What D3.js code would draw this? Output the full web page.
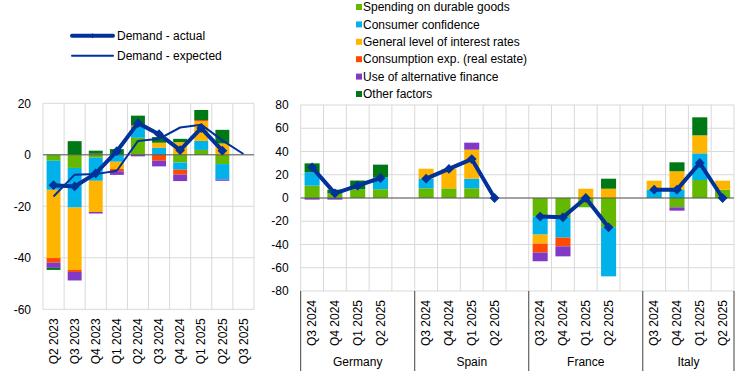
<!DOCTYPE html>
<html>
<head>
<meta charset="utf-8">
<script src="https://cdn.jsdelivr.net/npm/d3@7"></script>
<style>
  body { margin: 0; background: #fff; }
  text { font-family: "Liberation Sans", Arial, sans-serif; font-size: 12px; fill: #000; }
</style>
</head>
<body>
<svg id="chart" width="744" height="385"></svg>
<script>
// factors (same order for both panels)
const factorNames  = ['Spending on durable goods', 'Consumer confidence', 'General level of interest rates',
                      'Consumption exp. (real estate)', 'Use of alternative finance', 'Other factors'];
const factorColors = ['#65b800', '#00b1ea', '#ffb400', '#ff4b00', '#8139c6', '#007816'];

// left panel - euro area, by quarter
const quarters     = ['Q2 2023', 'Q3 2023', 'Q4 2023', 'Q1 2024', 'Q2 2024', 'Q3 2024', 'Q4 2024', 'Q1 2025', 'Q2 2025', 'Q3 2025'];
const eaDurable    = [-2.3, -5.1, -1.1,  0,   6.6,  0,   -3.0, 1.9, -3.6, 0];
const eaConfidence = [-11.3, -15.4, -9.0, -2.7, 4.3, 2.8, -2.8, 3.5, -6.0, 0];
const eaRates      = [-26.5, -24.2, -12.1, -2.8, 0,  1.9,  4.9, 7.6,  4.4, 0];
const eaRealEstate = [-1.8, -0.8,  0.4, -0.9, 0.6, -2.3, -1.9, 0.5,  0,   0];
const eaAltFinance = [-2.0, -3.3, -0.6, -1.4, -0.6, -2.2, -2.5, 0,  -0.5, 0];
const eaOther      = [-0.8,  5.3,  1.2,  2.2, 3.7,  2.2,  1.3, 3.9,  5.3, 0];
const eaActual     = [-11.8, -12.3, -7.2, 1.4, 12.3, 8.0, 1.8, 10.4, 1.6];
const eaExpected   = [-16.2, -7.7, -7.5, -6.2, 5.4, 6.2, 10.6, 11.7, 5.6, 0.3];

// right panel - countries, last four quarters
const countries     = ['Germany', 'Spain', 'France', 'Italy'];
const ctyQuarters   = ['Q3 2024', 'Q4 2024', 'Q1 2025', 'Q2 2025'];
// values run Germany x4, Spain x4, France x4, Italy x4
const ctyDurable    = [10.6, 4.0, 7.5, 7.5,   8.3, 8.3, 8.3, 0,   -16.0, -16.6, -8.0, -25.2,   0, -8.0, 15.5, 7.2];
const ctyConfidence = [11.5, 0, 0, 10.3,      8.3, 0, 8.3, 0,     -15.5, -17.5, 0, -42.2,      7.2, 7.2, 22.9, 0];
const ctyRates      = [0, 0, 0, 0,            8.6, 16.9, 25.0, 0, -7.7, 0, 8.0, 8.0,           7.7, 15.8, 15.5, 7.7];
const ctyRealEstate = [0, 0, 0, 0,            0, 0, 0, 0,         -7.7, -7.5, 0, 0,            0, 0, 0, 0];
const ctyAltFinance = [-1.4, -1.4, 0, 0,      0, 0, 6.0, 0,       -7.5, -8.6, 0, 0,            0, -2.9, 0, 0];
const ctyOther      = [7.7, 3.2, 7.5, 10.9,   0, 0, 0, 0,         0, 0, 0, 8.6,                0, 7.7, 15.5, 0];
const ctyActual     = [26.4, 4.0, 10.6, 17.2, 16.6, 25.0, 33.5, 0, -16.0, -16.6, 0, -25.2,    7.2, 7.2, 30.1, 0];

const leftTicks  = [20, 0, -20, -40, -60];
const rightTicks = [80, 60, 40, 20, 0, -20, -40, -60, -80];

const lineColor = '#003299';
const gridColor = '#d9d9d9';
const zeroColor = '#595959';

const svg = d3.select('#chart');
const keys = factorNames.map((_, i) => 'f' + i);
// markers are squares turned 45 degrees
const diamond = d3.symbol().type(d3.symbolSquare).size(48);

function makeRows(labels, seriesList) {
  return labels.map((label, i) => {
    const row = { key: label };
    seriesList.forEach((s, k) => { row['f' + k] = s[i]; });
    return row;
  });
}

function drawBars(g, rows, x, y) {
  const stacked = d3.stack().keys(keys).offset(d3.stackOffsetDiverging)(rows);
  const barW = x.bandwidth() * 0.66;
  stacked.forEach((layer, k) => {
    g.append('g')
      .attr('fill', factorColors[k])
      .selectAll('rect')
      .data(layer.filter(d => d[1] - d[0] !== 0))
      .join('rect')
      .attr('x', d => x(d.data.key) + (x.bandwidth() - barW) / 2)
      .attr('width', barW)
      .attr('y', d => y(Math.max(d[0], d[1])))
      .attr('height', d => Math.abs(y(d[0]) - y(d[1])));
  });
}

function drawGrid(g, x, y, ticks, slotKeys) {
  const [x0, x1] = x.range();
  g.append('g').selectAll('line')
    .data(ticks)
    .join('line')
    .attr('x1', x0).attr('x2', x1)
    .attr('y1', d => y(d)).attr('y2', d => y(d))
    .attr('stroke', gridColor);
  const edges = slotKeys.map(k => x(k)).concat([x1]);
  g.append('g').selectAll('line')
    .data(edges)
    .join('line')
    .attr('x1', d => d).attr('x2', d => d)
    .attr('y1', y(ticks[0])).attr('y2', y(ticks[ticks.length - 1]))
    .attr('stroke', gridColor);
  // y labels
  g.append('g').selectAll('text')
    .data(ticks)
    .join('text')
    .attr('x', x0 - 12)
    .attr('y', d => y(d))
    .attr('dy', '0.35em')
    .attr('text-anchor', 'end')
    .text(d => d);
}

function drawLine(g, points, width, markers) {
  g.append('path')
    .datum(points)
    .attr('fill', 'none')
    .attr('stroke', lineColor)
    .attr('stroke-width', width)
    .attr('stroke-linejoin', 'round')
    .attr('d', d3.line().x(d => d[0]).y(d => d[1]));
  if (markers) {
    g.append('g').selectAll('path')
      .data(points)
      .join('path')
      .attr('transform', d => `translate(${d[0]},${d[1]}) rotate(45)`)
      .attr('fill', lineColor)
      .attr('d', diamond);
  }
}

// ---- left panel
const xL = d3.scaleBand().domain(quarters).range([43, 254]);
const yL = d3.scaleLinear().domain([-60, 20]).range([309.3, 103.3]);
const left = svg.append('g');

drawGrid(left, xL, yL, leftTicks, quarters);
drawBars(left, makeRows(quarters, [eaDurable, eaConfidence, eaRates, eaRealEstate, eaAltFinance, eaOther]), xL, yL);
left.append('line')
  .attr('x1', 43).attr('x2', 254)
  .attr('y1', yL(0)).attr('y2', yL(0))
  .attr('stroke', zeroColor);

const midL = q => xL(q) + xL.bandwidth() / 2;
drawLine(left, eaExpected.map((v, i) => [midL(quarters[i]), yL(v)]), 2, false);
drawLine(left, eaActual.map((v, i) => [midL(quarters[i]), yL(v)]), 4, true);

left.append('g').selectAll('text')
  .data(quarters)
  .join('text')
  .attr('transform', d => `translate(${midL(d)},${yL(-60) + 9}) rotate(-90)`)
  .attr('dy', '0.35em')
  .attr('text-anchor', 'end')
  .text(d => d);

// ---- right panel
const slots = [];
countries.forEach((c, ci) => {
  ctyQuarters.forEach(q => slots.push(c + '|' + q));
  if (ci < countries.length - 1) slots.push('gap' + ci);
});
const xR = d3.scaleBand().domain(slots).range([300.7, 734]);
const yR = d3.scaleLinear().domain([-80, 80]).range([291, 105]);
const right = svg.append('g');

const ctyLabels = [];
countries.forEach(c => ctyQuarters.forEach(q => ctyLabels.push(c + '|' + q)));

drawGrid(right, xR, yR, rightTicks, slots);
drawBars(right, makeRows(ctyLabels, [ctyDurable, ctyConfidence, ctyRates, ctyRealEstate, ctyAltFinance, ctyOther]), xR, yR);
right.append('line')
  .attr('x1', 300.7).attr('x2', 734)
  .attr('y1', yR(0)).attr('y2', yR(0))
  .attr('stroke', zeroColor);

const midR = k => xR(k) + xR.bandwidth() / 2;
countries.forEach((c, ci) => {
  const pts = ctyQuarters.map((q, qi) => [midR(c + '|' + q), yR(ctyActual[ci * 4 + qi])]);
  drawLine(right, pts, 4, true);
});

right.append('g').selectAll('text')
  .data(ctyLabels)
  .join('text')
  .attr('transform', d => `translate(${midR(d)},${yR(-80) + 9}) rotate(-90)`)
  .attr('dy', '0.35em')
  .attr('text-anchor', 'end')
  .text(d => d.split('|')[1]);

// group separators and country names
const seps = [xR(slots[0])];
countries.forEach((c, ci) => {
  seps.push(ci < countries.length - 1 ? xR('gap' + ci) + xR.bandwidth() : 734);
});
right.append('g').selectAll('line')
  .data(seps)
  .join('line')
  .attr('x1', d => d).attr('x2', d => d)
  .attr('y1', yR(-80)).attr('y2', 371)
  .attr('stroke', '#404040');
right.append('g').selectAll('text')
  .data(countries)
  .join('text')
  .attr('x', (c, i) => (seps[i] + seps[i + 1]) / 2)
  .attr('y', 366)
  .attr('text-anchor', 'middle')
  .text(d => d);

// ---- legends
const lineLegend = svg.append('g');
[['Demand - actual', 4], ['Demand - expected', 2]].forEach(([label, w], i) => {
  const ly = 35.7 + i * 20;
  lineLegend.append('line')
    .attr('x1', 72).attr('x2', 113)
    .attr('y1', ly).attr('y2', ly)
    .attr('stroke', lineColor)
    .attr('stroke-width', w)
    .attr('stroke-linecap', 'round');
  if (i === 0) {
    lineLegend.append('path')
      .attr('transform', `translate(92.5,${ly}) rotate(45)`)
      .attr('fill', lineColor)
      .attr('d', d3.symbol().type(d3.symbolSquare).size(12));
  }
  lineLegend.append('text')
    .attr('x', 117).attr('y', ly)
    .attr('dy', '0.35em')
    .text(label);
});

const barLegend = svg.append('g');
factorNames.forEach((name, i) => {
  const ly = 7 + i * 17.4;
  barLegend.append('rect')
    .attr('x', 356).attr('y', ly - 3)
    .attr('width', 6).attr('height', 6)
    .attr('fill', factorColors[i]);
  barLegend.append('text')
    .attr('x', 363).attr('y', ly)
    .attr('dy', '0.35em')
    .text(name);
});
</script>
</body>
</html>
